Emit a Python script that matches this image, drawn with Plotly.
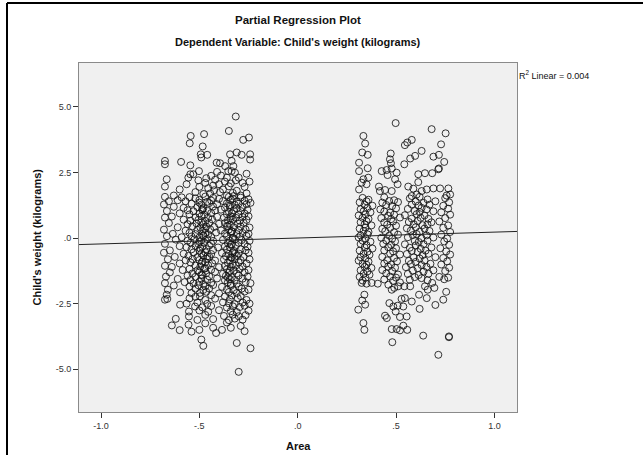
import plotly.graph_objects as go

# ---------------- data ----------------
left_pts = [
    (-0.315, 4.63), (-0.350, 4.08), (-0.544, 3.89), (-0.476, 3.96), (-0.549, 3.61), (-0.483, 3.49),
    (-0.277, 3.74), (-0.248, 3.83), (-0.493, 3.19), (-0.460, 3.17), (-0.490, 3.07), (-0.675, 2.94),
    (-0.675, 2.81), (-0.593, 2.90), (-0.546, 2.77), (-0.344, 3.19), (-0.310, 3.26), (-0.285, 3.17),
    (-0.242, 3.19), (-0.242, 2.99), (-0.336, 2.94), (-0.412, 2.87), (-0.395, 2.85), (-0.369, 2.74),
    (-0.327, 2.74), (-0.336, 2.55), (-0.319, 2.49), (-0.353, 2.55), (-0.502, 2.55), (-0.546, 2.43),
    (-0.556, 2.30), (-0.531, 2.43), (-0.666, 2.24), (-0.675, 1.96), (-0.675, 1.57),
    (-0.440, 2.37), (-0.410, 2.52), (-0.390, 2.38), (-0.420, 2.22), (-0.400, 2.05), (-0.370, 2.15),
    (-0.360, 2.30), (-0.430, 2.00), (-0.455, 1.90), (-0.380, 1.85), (-0.350, 1.97), (-0.300, 2.30),
    (-0.280, 2.10), (-0.260, 2.45), (-0.245, 2.15), (-0.270, 1.95), (-0.310, 1.80), (-0.260, 1.70),
    (-0.290, 1.62), (-0.330, 1.72), (-0.470, 2.10), (-0.500, 1.95), (-0.520, 1.75), (-0.480, 1.68),
    (-0.565, 2.05), (-0.600, 1.85), (-0.630, 1.62), (-0.590, 1.55), (-0.655, 1.40), (-0.395, 1.75),
    (-0.425, 1.82), (-0.465, 2.28), (-0.445, 1.70), (-0.340, 2.08), (-0.315, 2.20), (-0.505, 2.20),
    (-0.360, 1.62),
    (-0.55, 1.56), (-0.52, 1.51), (-0.47, 1.58), (-0.43, 1.53), (-0.40, 1.49), (-0.35, 1.57), (-0.33, 1.50),
    (-0.29, 1.54), (-0.25, 1.48),
    (-0.61, 1.44), (-0.57, 1.40), (-0.50, 1.45), (-0.46, 1.38), (-0.44, 1.43), (-0.38, 1.41), (-0.34, 1.46),
    (-0.31, 1.39), (-0.27, 1.42),
    (-0.68, 1.28), (-0.54, 1.31), (-0.49, 1.27), (-0.45, 1.33), (-0.41, 1.29), (-0.36, 1.32), (-0.32, 1.26),
    (-0.30, 1.31), (-0.26, 1.29), (-0.24, 1.34),
    (-0.63, 1.19), (-0.58, 1.15), (-0.51, 1.18), (-0.48, 1.14), (-0.43, 1.20), (-0.37, 1.16), (-0.345, 1.19),
    (-0.31, 1.13), (-0.28, 1.18),
    (-0.665, 1.03), (-0.56, 1.06), (-0.53, 1.02), (-0.485, 1.07), (-0.46, 1.04), (-0.42, 1.05), (-0.39, 1.08),
    (-0.35, 1.01), (-0.325, 1.06), (-0.29, 1.03), (-0.255, 1.07),
    (-0.60, 0.94), (-0.55, 0.90), (-0.50, 0.93), (-0.475, 0.89), (-0.44, 0.95), (-0.36, 0.91), (-0.335, 0.94),
    (-0.30, 0.90), (-0.27, 0.93),
    (-0.675, 0.78), (-0.64, 0.82), (-0.52, 0.79), (-0.49, 0.83), (-0.455, 0.77), (-0.41, 0.81), (-0.375, 0.78),
    (-0.34, 0.82), (-0.315, 0.77), (-0.28, 0.80), (-0.25, 0.83),
    (-0.58, 0.70), (-0.545, 0.66), (-0.505, 0.69), (-0.47, 0.65), (-0.435, 0.71), (-0.355, 0.67), (-0.33, 0.70),
    (-0.295, 0.66), (-0.26, 0.69),
    (-0.655, 0.57), (-0.56, 0.53), (-0.515, 0.56), (-0.48, 0.52), (-0.45, 0.58), (-0.40, 0.54), (-0.37, 0.57),
    (-0.345, 0.51), (-0.305, 0.55), (-0.275, 0.58),
    (-0.61, 0.41), (-0.535, 0.45), (-0.495, 0.40), (-0.465, 0.44), (-0.425, 0.42), (-0.36, 0.46), (-0.325, 0.41),
    (-0.29, 0.44), (-0.245, 0.40),
    (-0.68, 0.32), (-0.57, 0.28), (-0.51, 0.31), (-0.485, 0.27), (-0.445, 0.33), (-0.39, 0.29), (-0.35, 0.32),
    (-0.335, 0.26), (-0.30, 0.30), (-0.265, 0.33),
    (-0.635, 0.16), (-0.55, 0.20), (-0.52, 0.15), (-0.47, 0.19), (-0.455, 0.14), (-0.415, 0.21), (-0.37, 0.17),
    (-0.34, 0.20), (-0.31, 0.15), (-0.28, 0.19), (-0.25, 0.16),
    (-0.665, 0.07), (-0.59, 0.03), (-0.54, 0.06), (-0.50, 0.02), (-0.48, 0.08), (-0.44, 0.04), (-0.36, 0.07),
    (-0.33, 0.01), (-0.295, 0.05), (-0.26, 0.08),
    (-0.62, -0.06), (-0.56, -0.10), (-0.525, -0.05), (-0.49, -0.09), (-0.46, -0.04), (-0.43, -0.11),
    (-0.38, -0.07), (-0.345, -0.10), (-0.32, -0.05), (-0.285, -0.08), (-0.245, -0.11),
    (-0.675, -0.22), (-0.545, -0.18), (-0.505, -0.23), (-0.475, -0.17), (-0.44, -0.21), (-0.355, -0.19),
    (-0.335, -0.24), (-0.30, -0.18), (-0.27, -0.22),
    (-0.60, -0.31), (-0.565, -0.35), (-0.52, -0.30), (-0.485, -0.34), (-0.45, -0.29), (-0.405, -0.36),
    (-0.37, -0.32), (-0.345, -0.35), (-0.315, -0.30), (-0.255, -0.33),
    (-0.65, -0.47), (-0.54, -0.43), (-0.50, -0.48), (-0.465, -0.42), (-0.43, -0.46), (-0.36, -0.44),
    (-0.325, -0.49), (-0.29, -0.43), (-0.265, -0.47),
    (-0.68, -0.56), (-0.58, -0.60), (-0.53, -0.55), (-0.49, -0.59), (-0.47, -0.54), (-0.44, -0.61),
    (-0.385, -0.57), (-0.35, -0.60), (-0.33, -0.55), (-0.30, -0.59), (-0.25, -0.56),
    (-0.625, -0.72), (-0.555, -0.68), (-0.51, -0.73), (-0.48, -0.67), (-0.45, -0.71), (-0.365, -0.69),
    (-0.34, -0.74), (-0.31, -0.68), (-0.275, -0.72),
    (-0.66, -0.81), (-0.57, -0.85), (-0.535, -0.80), (-0.50, -0.84), (-0.46, -0.79), (-0.42, -0.86),
    (-0.375, -0.82), (-0.345, -0.85), (-0.32, -0.80), (-0.29, -0.84), (-0.245, -0.81),
    (-0.60, -0.97), (-0.545, -0.93), (-0.49, -0.98), (-0.47, -0.92), (-0.435, -0.96), (-0.355, -0.94),
    (-0.33, -0.99), (-0.30, -0.93), (-0.26, -0.97),
    (-0.675, -1.06), (-0.64, -1.10), (-0.52, -1.05), (-0.495, -1.09), (-0.455, -1.04), (-0.40, -1.11),
    (-0.37, -1.07), (-0.34, -1.10), (-0.315, -1.05), (-0.28, -1.09),
    (-0.585, -1.22), (-0.55, -1.18), (-0.51, -1.23), (-0.475, -1.17), (-0.44, -1.21), (-0.36, -1.19),
    (-0.325, -1.24), (-0.295, -1.18), (-0.25, -1.22),
    (-0.65, -1.31), (-0.535, -1.35), (-0.50, -1.30), (-0.465, -1.34), (-0.42, -1.29), (-0.38, -1.36),
    (-0.35, -1.32), (-0.31, -1.35), (-0.27, -1.30),
    (-0.67, -1.47), (-0.56, -1.43), (-0.52, -1.48), (-0.485, -1.42), (-0.45, -1.46), (-0.365, -1.44),
    (-0.335, -1.49), (-0.30, -1.43), (-0.255, -1.47),
    (-0.61, -1.56), (-0.545, -1.60), (-0.49, -1.55), (-0.46, -1.59), (-0.41, -1.54), (-0.37, -1.61),
    (-0.345, -1.57), (-0.32, -1.60), (-0.28, -1.55),
    (-0.675, -1.72), (-0.575, -1.68), (-0.53, -1.73), (-0.50, -1.67), (-0.44, -1.71), (-0.355, -1.69),
    (-0.31, -1.74), (-0.265, -1.68), (-0.24, -1.72),
    (-0.63, -1.81), (-0.55, -1.85), (-0.505, -1.80), (-0.47, -1.84), (-0.43, -1.79), (-0.385, -1.86),
    (-0.34, -1.82), (-0.30, -1.85),
    (-0.66, -1.97), (-0.52, -1.93), (-0.48, -1.98), (-0.45, -1.92), (-0.36, -1.96), (-0.325, -1.99),
    (-0.285, -1.93), (-0.25, -1.97),
    (-0.598, -2.07), (-0.54, -2.10), (-0.497, -2.09), (-0.465, -2.05), (-0.40, -2.11), (-0.35, -2.06),
    (-0.31, -2.10), (-0.27, -2.04),
    (-0.666, -2.16), (-0.52, -2.24), (-0.497, -2.22), (-0.44, -2.18), (-0.37, -2.23), (-0.335, -2.19),
    (-0.29, -2.21),
    (-0.675, -2.35), (-0.663, -2.32), (-0.55, -2.30), (-0.47, -2.36), (-0.42, -2.31), (-0.345, -2.34),
    (-0.305, -2.29), (-0.26, -2.36),
    (-0.598, -2.54), (-0.565, -2.50), (-0.51, -2.46), (-0.46, -2.51), (-0.38, -2.45), (-0.35, -2.49),
    (-0.32, -2.52), (-0.28, -2.46), (-0.245, -2.50),
    (-0.522, -2.61), (-0.485, -2.64), (-0.44, -2.59), (-0.36, -2.65), (-0.33, -2.60), (-0.295, -2.63),
    (-0.27, -2.58),
    (-0.553, -2.80), (-0.50, -2.76), (-0.455, -2.81), (-0.40, -2.75), (-0.34, -2.79), (-0.31, -2.82),
    (-0.25, -2.77),
    (-0.553, -2.99), (-0.47, -2.93), (-0.375, -2.97), (-0.33, -2.92), (-0.30, -2.98), (-0.265, -2.94),
    (-0.62, -3.08), (-0.51, -3.12), (-0.43, -3.09), (-0.35, -3.13), (-0.32, -3.07), (-0.28, -3.11),
    (-0.64, -3.33), (-0.60, -3.51), (-0.54, -3.57), (-0.50, -3.50), (-0.49, -3.87), (-0.48, -4.11),
    (-0.43, -3.42), (-0.385, -3.50), (-0.34, -3.42), (-0.31, -4.00), (-0.24, -4.20), (-0.30, -5.10),
    (-0.47, -3.25), (-0.36, -3.22), (-0.29, -3.35), (-0.555, -3.30), (-0.415, -3.62), (-0.27, -3.55),
    (-0.485, 1.10), (-0.49, 0.60), (-0.48, 0.10), (-0.495, -0.40), (-0.485, -0.90), (-0.49, -1.40),
    (-0.345, 1.25), (-0.34, 0.75), (-0.335, 0.25), (-0.34, -0.25), (-0.335, -0.75), (-0.345, -1.25),
    (-0.34, -1.75), (-0.48, -1.75), (-0.325, 1.60), (-0.50, 1.35), (-0.47, 0.35), (-0.355, 0.45),
    (-0.32, -0.60), (-0.47, -1.15), (-0.355, -1.50), (-0.50, -0.15), (-0.33, 0.00), (-0.46, -0.70),
]

right_pts = [
    (0.498, 4.38), (0.681, 4.15), (0.752, 3.99), (0.334, 3.89), (0.343, 3.60), (0.729, 3.57),
    (0.545, 3.54), (0.557, 3.64), (0.580, 3.74), (0.328, 3.26), (0.356, 3.17), (0.473, 3.22),
    (0.469, 3.00), (0.474, 2.85), (0.630, 3.32), (0.597, 3.13), (0.572, 3.03), (0.542, 2.81),
    (0.690, 3.10), (0.718, 3.17), (0.745, 2.90), (0.718, 2.65), (0.312, 2.87), (0.312, 2.55),
    (0.356, 2.66), (0.427, 2.55), (0.452, 2.59), (0.478, 2.65), (0.503, 2.49), (0.457, 2.40),
    (0.613, 2.43), (0.647, 2.47), (0.684, 2.47), (0.715, 2.62), (0.334, 2.24), (0.359, 2.30),
    (0.350, 2.05), (0.325, 2.11), (0.312, 1.85), (0.495, 2.24), (0.508, 2.05), (0.478, 1.79),
    (0.613, 2.13), (0.413, 1.96), (0.418, 1.79), (0.444, 1.83), (0.562, 1.96), (0.588, 1.88),
    (0.580, 1.60), (0.605, 1.66), (0.630, 1.79), (0.656, 1.85), (0.690, 1.89), (0.724, 1.89),
    (0.766, 1.89), (0.757, 1.62), (0.775, 1.66),
    (0.33, 1.53), (0.36, 1.46), (0.44, 1.55), (0.49, 1.44), (0.57, 1.51), (0.62, 1.57), (0.66, 1.47), (0.75, 1.52),
    (0.315, 1.36), (0.35, 1.40), (0.43, 1.35), (0.465, 1.41), (0.51, 1.37), (0.60, 1.39), (0.64, 1.34),
    (0.70, 1.40), (0.77, 1.36),
    (0.34, 1.27), (0.38, 1.23), (0.45, 1.26), (0.48, 1.22), (0.58, 1.28), (0.615, 1.24), (0.67, 1.27), (0.74, 1.23),
    (0.32, 1.10), (0.355, 1.14), (0.42, 1.09), (0.50, 1.13), (0.56, 1.11), (0.63, 1.15), (0.655, 1.09), (0.765, 1.12),
    (0.335, 1.02), (0.37, 0.98), (0.44, 1.01), (0.47, 0.97), (0.595, 1.03), (0.62, 0.99), (0.69, 1.02), (0.73, 0.98),
    (0.31, 0.86), (0.345, 0.90), (0.46, 0.85), (0.49, 0.89), (0.545, 0.87), (0.605, 0.91), (0.645, 0.86), (0.775, 0.89),
    (0.33, 0.77), (0.36, 0.73), (0.425, 0.76), (0.475, 0.72), (0.52, 0.78), (0.58, 0.74), (0.625, 0.77),
    (0.665, 0.73), (0.75, 0.76),
    (0.32, 0.60), (0.35, 0.64), (0.44, 0.59), (0.485, 0.63), (0.565, 0.61), (0.61, 0.65), (0.68, 0.60), (0.72, 0.63),
    (0.34, 0.52), (0.375, 0.48), (0.455, 0.51), (0.50, 0.47), (0.59, 0.53), (0.635, 0.49), (0.66, 0.52), (0.765, 0.48),
    (0.315, 0.36), (0.345, 0.40), (0.43, 0.35), (0.47, 0.39), (0.555, 0.37), (0.60, 0.41), (0.645, 0.36), (0.74, 0.39),
    (0.335, 0.27), (0.36, 0.23), (0.445, 0.26), (0.49, 0.22), (0.575, 0.28), (0.62, 0.24), (0.67, 0.27), (0.775, 0.23),
    (0.32, 0.10), (0.355, 0.14), (0.465, 0.09), (0.51, 0.13), (0.585, 0.11), (0.605, 0.15), (0.655, 0.10), (0.73, 0.13),
    (0.31, 0.02), (0.345, -0.02), (0.425, 0.01), (0.48, -0.03), (0.56, 0.03), (0.63, -0.01), (0.69, 0.02), (0.76, -0.02),
    (0.33, -0.10), (0.37, -0.14), (0.45, -0.09), (0.495, -0.13), (0.595, -0.11), (0.615, -0.15), (0.66, -0.10),
    (0.745, -0.13),
    (0.32, -0.23), (0.35, -0.27), (0.435, -0.22), (0.475, -0.26), (0.545, -0.24), (0.60, -0.28), (0.64, -0.23),
    (0.77, -0.26),
    (0.34, -0.36), (0.38, -0.40), (0.46, -0.35), (0.50, -0.39), (0.57, -0.37), (0.625, -0.41), (0.68, -0.36),
    (0.725, -0.39),
    (0.315, -0.48), (0.355, -0.52), (0.44, -0.47), (0.485, -0.51), (0.58, -0.49), (0.61, -0.53), (0.65, -0.48),
    (0.755, -0.51),
    (0.335, -0.60), (0.365, -0.64), (0.47, -0.59), (0.52, -0.63), (0.555, -0.61), (0.635, -0.65), (0.665, -0.60),
    (0.775, -0.63),
    (0.32, -0.73), (0.345, -0.77), (0.43, -0.72), (0.49, -0.76), (0.59, -0.74), (0.62, -0.78), (0.70, -0.73),
    (0.74, -0.76),
    (0.31, -0.86), (0.36, -0.90), (0.455, -0.85), (0.505, -0.89), (0.565, -0.87), (0.60, -0.91), (0.645, -0.86),
    (0.76, -0.89),
    (0.33, -0.98), (0.35, -1.02), (0.44, -0.97), (0.475, -1.01), (0.575, -0.99), (0.63, -1.03), (0.675, -0.98),
    (0.73, -1.01),
    (0.34, -1.10), (0.375, -1.14), (0.46, -1.09), (0.495, -1.13), (0.55, -1.11), (0.61, -1.15), (0.655, -1.10),
    (0.77, -1.13),
    (0.32, -1.23), (0.355, -1.27), (0.43, -1.22), (0.48, -1.26), (0.585, -1.24), (0.64, -1.28), (0.69, -1.23),
    (0.75, -1.26),
    (0.335, -1.36), (0.365, -1.40), (0.45, -1.35), (0.51, -1.39), (0.56, -1.37), (0.615, -1.41), (0.665, -1.36),
    (0.315, -1.48), (0.345, -1.52), (0.47, -1.47), (0.50, -1.51), (0.595, -1.49), (0.63, -1.53), (0.72, -1.48),
    (0.765, -1.51),
    (0.33, -1.62), (0.44, -1.58), (0.485, -1.63), (0.57, -1.59), (0.66, -1.61), (0.745, -1.57),
    (0.325, -1.71), (0.350, -1.74), (0.376, -1.71), (0.407, -1.74), (0.461, -1.78), (0.478, -1.97),
    (0.491, -1.90), (0.511, -1.84), (0.542, -1.84), (0.572, -1.84), (0.520, -1.69), (0.647, -1.84),
    (0.684, -1.71), (0.695, -1.90), (0.661, -1.97), (0.617, -2.16), (0.656, -2.29), (0.580, -2.42),
    (0.545, -2.29), (0.528, -2.32), (0.339, -2.16), (0.328, -2.38), (0.343, -2.54), (0.308, -2.73),
    (0.466, -2.48), (0.486, -2.61), (0.508, -2.58), (0.537, -2.61), (0.498, -2.80), (0.444, -2.96),
    (0.453, -3.05), (0.520, -3.01), (0.554, -2.99), (0.334, -3.24), (0.339, -3.50), (0.478, -3.47),
    (0.503, -3.47), (0.520, -3.52), (0.557, -3.50), (0.537, -3.34), (0.481, -3.97), (0.638, -3.72),
    (0.769, -3.75), (0.769, -3.78), (0.715, -4.45), (0.755, -2.05), (0.740, -2.35), (0.700, -2.55),
    (0.620, -2.70),
]

area = [p[0] for p in left_pts] + [p[0] for p in right_pts]
weight = [p[1] for p in left_pts] + [p[1] for p in right_pts]

fit_intercept = 0.0
fit_slope = 0.225
r2_text = "R<sup>2</sup> Linear = 0.004"

x_ticks = [-1.0, -0.5, 0.0, 0.5, 1.0]
x_tick_labels = ["-1.0", "-.5", ".0", ".5", "1.0"]
y_ticks = [-5.0, -2.5, 0.0, 2.5, 5.0]
y_tick_labels = ["-5.0", "-2.5", ".0", "2.5", "5.0"]

x_range = [-1.112, 1.115]
y_range = [-6.63, 6.67]

# ---------------- figure ----------------
FONT = "Liberation Sans, Arial, sans-serif"
fig = go.Figure()
fig.add_trace(go.Scatter(
    x=area, y=weight, mode="markers",
    marker=dict(symbol="circle-open", size=7, color="rgba(20,20,20,0.85)", line=dict(width=1)),
    hoverinfo="skip", showlegend=False,
))
fig.add_trace(go.Scatter(
    x=x_range, y=[fit_intercept + fit_slope * v for v in x_range], mode="lines",
    line=dict(color="#222222", width=1), hoverinfo="skip", showlegend=False,
))

L, R, T, B = 79, 126, 63, 43
W, H = 643, 455
pw, ph = W - L - R, H - T - B

def px_x(px):
    return (px - L) / pw

def px_y(py):
    return (H - B - py) / ph

fig.update_layout(
    width=W, height=H,
    margin=dict(l=L, r=R, t=T, b=B, pad=0),
    paper_bgcolor="white", plot_bgcolor="#F0F0F0",
    font=dict(family=FONT, size=9, color="#333333"),
    xaxis=dict(range=x_range, tickvals=x_ticks, ticktext=x_tick_labels, ticks="outside",
               ticklen=5, tickcolor="#333333", showgrid=False, zeroline=False,
               showline=True, linecolor="#8a8a8a", linewidth=1, mirror=True,
               tickfont=dict(size=9, color="#333333")),
    yaxis=dict(range=y_range, tickvals=y_ticks, ticktext=y_tick_labels, ticks="outside",
               ticklen=5, tickcolor="#333333", showgrid=False, zeroline=False,
               showline=True, linecolor="#8a8a8a", linewidth=1, mirror=True,
               tickfont=dict(size=9, color="#333333")),
    annotations=[
        dict(text="<b>Partial Regression Plot</b>", x=0.5, y=px_y(20), xref="paper", yref="paper",
             showarrow=False, xanchor="center", yanchor="middle", font=dict(size=11.5, color="#111111")),
        dict(text="<b>Dependent Variable: Child's weight (kilograms)</b>", x=0.5, y=px_y(42),
             xref="paper", yref="paper", showarrow=False, xanchor="center", yanchor="middle",
             font=dict(size=11, color="#111111")),
        dict(text="<b>Area</b>", x=0.5, y=px_y(446), xref="paper", yref="paper", showarrow=False,
             xanchor="center", yanchor="middle", font=dict(size=11, color="#111111")),
        dict(text="<b>Child's weight (kilograms)</b>", x=px_x(36), y=0.5, xref="paper", yref="paper",
             showarrow=False, textangle=-90, xanchor="center", yanchor="middle",
             font=dict(size=11, color="#111111")),
        dict(text=r2_text, x=1.0, y=px_y(75), xref="paper", yref="paper", showarrow=False,
             xanchor="left", yanchor="middle", font=dict(size=9, color="#111111")),
    ],
    shapes=[
        dict(type="line", xref="paper", yref="paper", x0=px_x(7), x1=px_x(W + 2), y0=px_y(3), y1=px_y(3),
             line=dict(color="black", width=2)),
        dict(type="line", xref="paper", yref="paper", x0=px_x(7), x1=px_x(7), y0=px_y(3), y1=px_y(H + 2),
             line=dict(color="black", width=2)),
    ],
)

fig.write_html("out.html")
